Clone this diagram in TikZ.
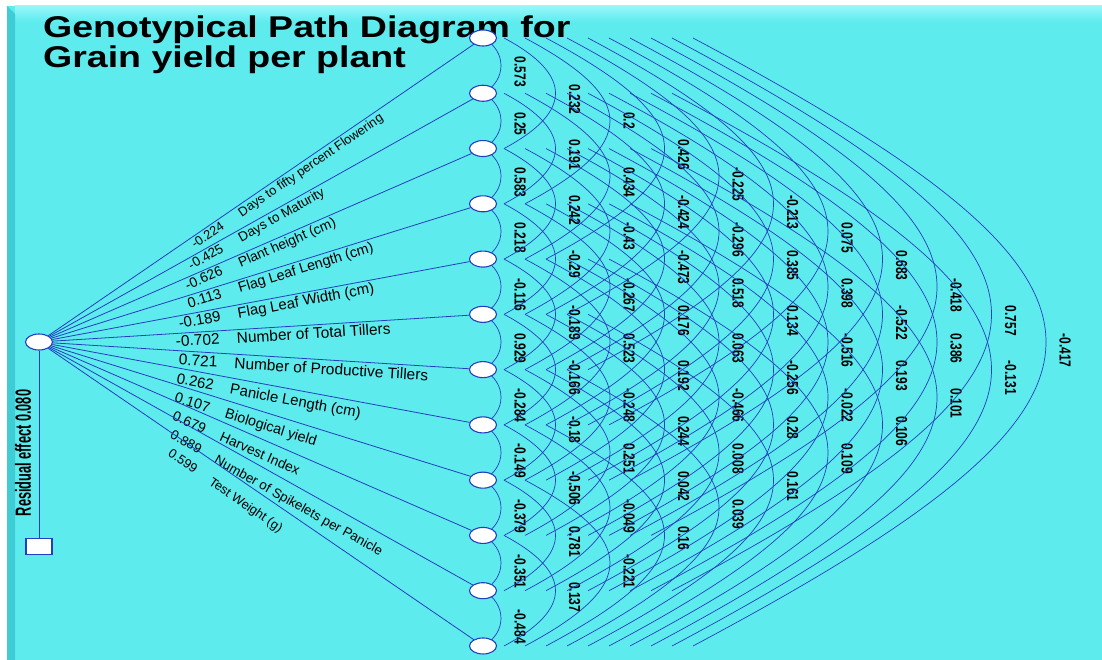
\documentclass[tikz,border=0pt]{standalone}
\usepackage{fontspec}
\setmainfont{Liberation Sans}
\newfontfamily\titlefont[FakeStretch=1.25]{Liberation Sans}
\newfontfamily\valfont[FakeStretch=0.75]{Liberation Sans}
\newfontfamily\resfont[FakeStretch=0.58]{Liberation Sans}
\usetikzlibrary{shapes,backgrounds,positioning}

\definecolor{bgcyan}{RGB}{93,235,238}
\definecolor{bgdark}{RGB}{62,205,212}
\definecolor{bglight}{RGB}{150,247,250}
\definecolor{linkblue}{RGB}{35,62,190}

\begin{document}
\begin{tikzpicture}[
    x=1pt, y=-1pt,
    trait/.style={ellipse, draw=linkblue, fill=white, line width=1.1pt, minimum width=27pt, minimum height=16pt, inner sep=0pt},
    resbox/.style={rectangle, draw=linkblue, fill=white, line width=1.1pt, minimum width=26pt, minimum height=16pt, inner sep=0pt},
    link/.style={draw=linkblue, line width=0.8pt},
    corr/.style={draw=linkblue, line width=0.7pt},
    effect/.style={sloped, inner xsep=2pt},
    corrval/.style={pos=0.5, xshift=19pt, yshift=9pt, rotate=-90, anchor=west, inner sep=0pt, font=\valfont\bfseries\fontsize{16}{18}\selectfont},
    title/.style={anchor=north west, align=left, inner sep=0pt, font=\titlefont\bfseries\fontsize{30}{27}\selectfont}
]
\useasboundingbox (0,0) rectangle (1102,660);

% Background
\begin{pgfonlayer}{background}
\fill[white] (0,0) rectangle (1102,660);
\fill[bgcyan] (7,6) rectangle (1102,660);
\shade[top color=bglight, bottom color=bgcyan] (15,6) rectangle (1102,22);
\fill[bgdark] (7,6) -- (15,14) -- (15,660) -- (7,660) -- cycle;
\end{pgfonlayer}

% Title
\node[title] (title) at (43,16) {Genotypical Path Diagram for\\Grain yield per plant};

% Nodes
\node[trait] (gy) at (39,342) {};
\node[resbox, below=187pt of gy] (res) {};
\foreach \i in {1,...,12}
    \node[trait] (t\i) at (483,{38+55.27*(\i-1)}) {};

% Residual
\draw[link] (gy) -- (res);
\node[rotate=90, inner sep=0pt, font=\resfont\bfseries\fontsize{22}{24}\selectfont] (restext) at (23,453) {Residual effect 0.080};

% Direct effects
\foreach \i/\v/\name in {1/-0.224/Days to fifty percent Flowering,
    2/-0.425/Days to Maturity,
    3/-0.626/Plant height (cm),
    4/0.113/Flag Leaf Length (cm),
    5/-0.189/Flag Leaf Width (cm),
    6/-0.702/Number of Total Tillers,
    7/0.721/Number of Productive Tillers,
    8/0.262/Panicle Length (cm),
    9/0.107/Biological yield,
    10/0.679/Harvest Index,
    11/0.889/Number of Spikelets per Panicle,
    12/0.599/Test Weight (g)}{
    \pgfmathsetmacro\dy{55.27*(\i-1)-304}
    \pgfmathsetmacro\down{max(\dy,0)/304}
    \pgfmathsetmacro\fs{15.7-2.9*abs(\dy)/304}
    \pgfmathsetmacro\gap{2+10*\down}
    \pgfmathsetmacro\pv{0.405-0.03*\down}
    \pgfmathsetmacro\pn{0.435-0.035*\down}
    \draw[link] (gy) -- (t\i)
        node[effect, inner ysep=\gap pt, font=\fontsize{\fs}{\fs}\selectfont, pos=\pv, anchor=north east] {\v}
        node[effect, inner ysep=\gap pt, font=\fontsize{\fs}{\fs}\selectfont, pos=\pn, anchor=north west] {\name};
}

% Correlations
\begin{pgfonlayer}{background}
\foreach \i/\j/\v in {1/2/0.573, 2/3/0.25, 3/4/0.583, 4/5/0.218, 5/6/-0.116, 6/7/0.929,
    7/8/-0.284, 8/9/-0.149, 9/10/-0.379, 10/11/-0.351, 11/12/-0.484,
    1/3/0.232, 2/4/0.191, 3/5/0.242, 4/6/-0.29, 5/7/-0.189, 6/8/-0.166,
    7/9/-0.18, 8/10/-0.506, 9/11/0.781, 10/12/0.137,
    1/4/0.2, 2/5/0.434, 3/6/-0.43, 4/7/-0.267, 5/8/0.523, 6/9/-0.248,
    7/10/0.251, 8/11/-0.049, 9/12/-0.221,
    1/5/0.426, 2/6/-0.424, 3/7/-0.473, 4/8/0.176, 5/9/0.192, 6/10/0.244,
    7/11/0.042, 8/12/0.16,
    1/6/-0.225, 2/7/-0.296, 3/8/0.518, 4/9/0.063, 5/10/-0.466, 6/11/0.008, 7/12/0.039,
    1/7/-0.213, 2/8/0.385, 3/9/0.134, 4/10/-0.256, 5/11/0.28, 6/12/0.161,
    1/8/0.075, 2/9/0.398, 3/10/-0.516, 4/11/-0.022, 5/12/0.109,
    1/9/0.683, 2/10/-0.522, 3/11/0.193, 4/12/0.106,
    1/10/-0.418, 2/11/0.386, 3/12/0.101,
    1/11/0.757, 2/12/-0.131,
    1/12/-0.417}{
    \pgfmathtruncatemacro\g{\j-\i}
    \pgfmathsetmacro\s{21*(\g-1)}
    \pgfmathsetmacro\c{(18+33.5*(\g-1))/0.75}
    \pgfmathsetmacro\d{0.532*\c}
    \draw[corr] ([xshift=\s pt]t\i.center) .. controls +(\c,\d) and +(\c,-\d) .. ([xshift=\s pt]t\j.center)
        node[corrval] {\v};
}
\end{pgfonlayer}
\end{tikzpicture}
\end{document}
